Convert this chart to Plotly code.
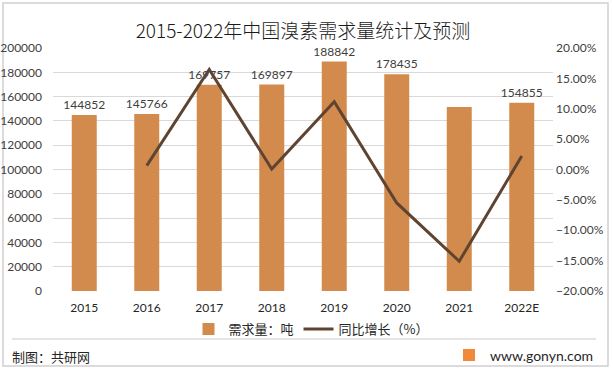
import plotly.graph_objects as go

years = ["2015", "2016", "2017", "2018", "2019", "2020", "2021", "2022E"]
demand = [144852, 145766, 169757, 169897, 188842, 178435, 151500, 154855]
demand_labels = ["144852", "145766", "169757", "169897", "188842", "178435", "", "154855"]
growth = [None, 0.0063, 0.1646, 0.0008, 0.1115, -0.0551, -0.1510, 0.0221]

W, H = 613, 371
L, R, T, B = 53, 553, 48, 291

def px(x):
    return (x - L) / (R - L)

def py(y):
    return (B - y) / (B - T)

FONT = "Lato, Noto Sans CJK SC, sans-serif"
CJK = "Noto Sans CJK SC, sans-serif"

fig = go.Figure()
fig.add_trace(go.Bar(
    x=years, y=demand, name="需求量：吨",
    marker=dict(color="#D38B4D", line=dict(width=0)),
    width=0.4,
    text=demand_labels, textposition="outside", constraintext="none",
    textfont=dict(size=12, color="#404040", family=FONT),
    cliponaxis=False,
))
fig.add_trace(go.Scatter(
    x=years, y=growth, name="同比增长（%）", yaxis="y2",
    mode="lines", line=dict(color="#5E4431", width=3),
))

shapes = [
    dict(type="rect", xref="paper", yref="paper", x0=px(3), x1=px(608), y0=py(366), y1=py(3),
         line=dict(color="#D0D0D0", width=1.5), fillcolor="rgba(0,0,0,0)", layer="below"),
    dict(type="line", xref="paper", yref="paper", x0=px(12), x1=px(596), y0=py(339), y1=py(339),
         line=dict(color="#DDDDDD", width=1.5)),
    dict(type="rect", xref="paper", yref="paper", x0=px(463), x1=px(475), y0=py(361), y1=py(349),
         line=dict(width=0), fillcolor="#F08A3A"),
]

annotations = [
    dict(text="制图：共研网", xref="paper", yref="paper", x=px(10), y=py(356),
         xanchor="left", yanchor="middle", showarrow=False,
         font=dict(size=13, color="#262626", family=CJK)),
    dict(text="www.gonyn.com", xref="paper", yref="paper", x=px(595), y=py(355),
         xanchor="right", yanchor="middle", showarrow=False,
         font=dict(size=14, color="#262626", family=FONT)),
]

fig.update_layout(
    width=W, height=H,
    margin=dict(l=L, r=W - R, t=T, b=H - B, autoexpand=False),
    paper_bgcolor="white", plot_bgcolor="white",
    title=dict(text="2015-2022年中国溴素需求量统计及预测", x=0.5, xref="paper",
               y=1 - 31 / H, yanchor="middle",
               font=dict(size=19, color="#1a1a1a", family=CJK, weight=300)),
    font=dict(family=FONT, color="#404040", size=12),
    bargap=0.6,
    xaxis=dict(type="category", showgrid=False, showline=False, ticks="", automargin=False,
               tickfont=dict(size=12, color="#262626", family=FONT), ticklabelstandoff=8),
    yaxis=dict(range=[0, 200000], tick0=0, dtick=20000, tickformat="d", automargin=False,
               showgrid=True, gridcolor="#D9D9D9", gridwidth=1, zeroline=False,
               showline=False, ticks="", tickfont=dict(size=12, color="#404040"),
               ticklabelstandoff=10),
    yaxis2=dict(range=[-0.2, 0.2], tick0=-0.2, dtick=0.05, tickformat=".2%", automargin=False,
                overlaying="y", side="right", showgrid=False, zeroline=False,
                showline=False, ticks="", tickfont=dict(size=12, color="#404040"),
                ticklabelstandoff=2),
    legend=dict(orientation="h", x=px(311), xanchor="center", y=py(329), yanchor="middle",
                font=dict(size=13, color="#262626", family=CJK),
                bgcolor="rgba(0,0,0,0)", itemwidth=30, tracegroupgap=0),
    shapes=shapes,
    annotations=annotations,
    showlegend=True,
)

fig.write_html("out.html", config={"displayModeBar": False},
               post_script="document.body.style.margin='0';document.body.style.overflow='hidden';")
